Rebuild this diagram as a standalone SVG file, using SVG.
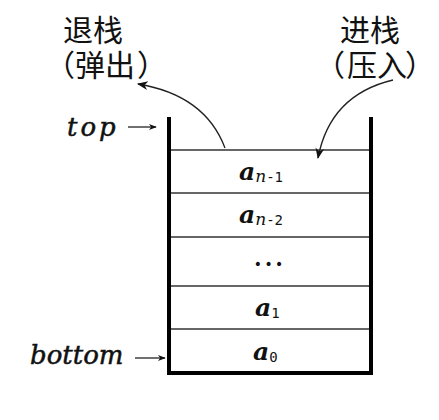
<svg xmlns="http://www.w3.org/2000/svg" width="439" height="420" viewBox="0 0 439 420">
<style>
.cn{font-family:"Noto Sans CJK SC","Liberation Serif",serif;font-size:30px;fill:#111}
.lbl{font-family:"DejaVu Serif","Liberation Serif",serif;font-style:italic;font-size:26px;fill:#111;stroke:#111;stroke-width:0.5}
.a{font-family:"DejaVu Serif","Liberation Serif",serif;font-style:italic;font-weight:bold;font-size:25px;fill:#111}
.sub{font-family:"DejaVu Sans Mono","Liberation Mono",monospace;font-size:14px;font-style:normal;font-weight:normal}
.subn{font-family:"DejaVu Serif",serif;font-style:italic;font-size:17px;font-weight:normal}
.wall{fill:none;stroke:#000;stroke-width:4}
.row{stroke:#333;stroke-width:1.5}
.conn{fill:none;stroke:#222;stroke-width:1.3}
</style>
<defs>
<marker id="ah" viewBox="0 0 10 10" refX="9" refY="5" markerWidth="8" markerHeight="8" orient="auto" markerUnits="userSpaceOnUse">
<path d="M0,1 L10,5 L0,9 L3,5 Z" fill="#111"/>
</marker>
<marker id="ah2" viewBox="0 0 10 10" refX="9" refY="5" markerWidth="11" markerHeight="11" orient="auto" markerUnits="userSpaceOnUse">
<path d="M0,1 L10,5 L0,9 L3,5 Z" fill="#111"/>
</marker>
</defs>
<rect width="439" height="420" fill="#fff"/>
<g id="stack">
<path class="wall" d="M169,117 V373 H371 V117"/>
<line class="row" x1="171" y1="150" x2="369" y2="150"/>
<line class="row" x1="171" y1="193" x2="369" y2="193"/>
<line class="row" x1="171" y1="237" x2="369" y2="237"/>
<line class="row" x1="171" y1="286" x2="369" y2="286"/>
<line class="row" x1="171" y1="329" x2="369" y2="329"/>
</g>
<g id="cell-an1"><text class="a" x="239" y="180">a<tspan class="subn" dy="2">n</tspan><tspan class="sub">-1</tspan></text></g>
<g id="cell-an2"><text class="a" x="239" y="223">a<tspan class="subn" dy="2">n</tspan><tspan class="sub">-2</tspan></text></g>
<g id="cell-dots"><text class="a" x="270" y="266" text-anchor="middle" style="font-style:normal;font-size:22px;letter-spacing:3px">...</text></g>
<g id="cell-a1"><text class="a" x="255" y="316">a<tspan class="sub" dy="2">1</tspan></text></g>
<g id="cell-a0"><text class="a" x="253" y="360">a<tspan class="sub" dy="2">0</tspan></text></g>
<g id="pop-label"><text class="cn" x="63" y="41">退栈</text><text class="cn" y="76"><tspan x="45">（</tspan><tspan x="75">弹出</tspan><tspan x="137">）</tspan></text></g>
<g id="push-label"><text class="cn" x="340" y="41">进栈</text><text class="cn" y="76"><tspan x="315">（</tspan><tspan x="347">压入</tspan><tspan x="405">）</tspan></text></g>
<g id="top-label"><text class="lbl" x="67" y="136" style="letter-spacing:3px">top</text></g>
<g id="bottom-label"><text class="lbl" x="30" y="364">bottom</text></g>
<g id="connectors">
<line class="conn" x1="128" y1="127" x2="156" y2="127" marker-end="url(#ah)"/>
<line class="conn" x1="135" y1="358" x2="165" y2="358" marker-end="url(#ah)"/>
<path class="conn" d="M225,148 Q205,95 138,84" marker-end="url(#ah2)"/>
<path class="conn" d="M393,80 Q330,95 318,158" marker-end="url(#ah2)"/>
</g>
</svg>
